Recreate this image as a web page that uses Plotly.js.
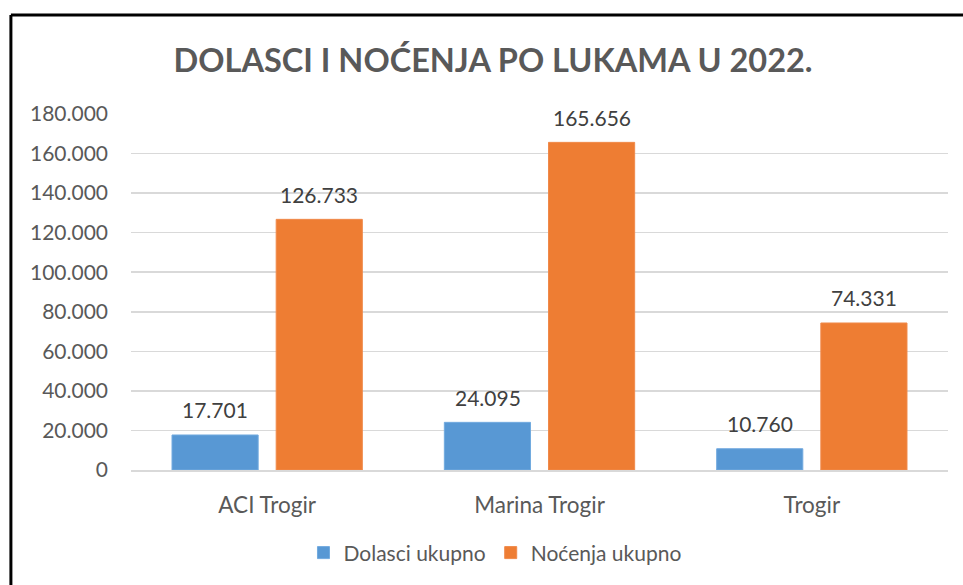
<!DOCTYPE html>
<html>
<head>
<meta charset="utf-8">
<script src="https://cdn.plot.ly/plotly-3.0.1.min.js"></script>
<style>html,body{margin:0;padding:0;background:#fff;}#chart{width:963px;height:585px;}</style>
</head>
<body>
<div id="chart"></div>
<script>
const categories = ["ACI Trogir", "Marina Trogir", "Trogir"];
const dolasci = [17701, 24095, 10760];
const nocenja = [126733, 165656, 74331];
const seriesNames = ["Dolasci ukupno", "Noćenja ukupno"];
const chartTitle = "DOLASCI I NOĆENJA PO LUKAMA U 2022.";

const fmt = v => v.toString().replace(/\B(?=(\d{3})+(?!\d))/g, ".");
const FONT = "Lato, 'DejaVu Sans', sans-serif";

const traces = [
  {type: "bar", name: seriesNames[0], x: categories, y: dolasci,
   marker: {color: "#5898D4", line: {color: "#72AADF", width: 1}}, hoverinfo: "y"},
  {type: "bar", name: seriesNames[1], x: categories, y: nocenja,
   marker: {color: "#EE7D33", line: {color: "#F08A4B", width: 1}}, hoverinfo: "y"}
];

const annotations = [];
[dolasci, nocenja].forEach((arr, si) => {
  arr.forEach((v, i) => {
    annotations.push({x: categories[i], y: v, xref: "x", yref: "y", text: fmt(v),
      showarrow: false, xshift: si === 0 ? -52 : 52, yshift: 25,
      font: {family: FONT, size: 21, color: "#404040"}});
  });
});

const layout = {
  width: 963, height: 585,
  margin: {l: 131, r: 15, t: 114, b: 115},
  paper_bgcolor: "#fff", plot_bgcolor: "#fff",
  separators: ",.",
  title: {text: "<b>" + chartTitle + "</b>", x: 0.512, xanchor: "center", y: 0.897, yanchor: "middle",
    yref: "container", xref: "container", font: {family: FONT, size: 32.5, color: "#595959"}},
  barmode: "group", bargap: 0.235, bargroupgap: 0.173,
  xaxis: {tickfont: {family: FONT, size: 22.5, color: "#595959"}, showgrid: false,
    showline: true, linecolor: "#D9D9D9", linewidth: 1.5, ticklabelstandoff: 14, fixedrange: true},
  yaxis: {range: [0, 180000], dtick: 20000, tickformat: ",d", showline: false, zeroline: false,
    gridcolor: "#D9D9D9", gridwidth: 1.5, tickfont: {family: FONT, size: 21, color: "#595959"},
    ticklabelstandoff: 22, fixedrange: true},
  legend: {orientation: "h", x: 0.4455, xanchor: "center", y: -0.233, yanchor: "middle",
    font: {family: FONT, size: 21, color: "#595959"}, itemwidth: 30, traceorder: "normal"},
  annotations: annotations,
  shapes: [
    {type: "line", xref: "paper", yref: "paper", x0: -0.147, x1: -0.147, y0: -0.5, y1: 1.278,
     line: {color: "#000", width: 3}},
    {type: "line", xref: "paper", yref: "paper", x0: -0.147, x1: 1.1, y0: 1.278, y1: 1.278,
     line: {color: "#000", width: 3}}
  ],
  showlegend: true
};

Plotly.newPlot("chart", traces, layout, {displayModeBar: false, staticPlot: true});
</script>
</body>
</html>
